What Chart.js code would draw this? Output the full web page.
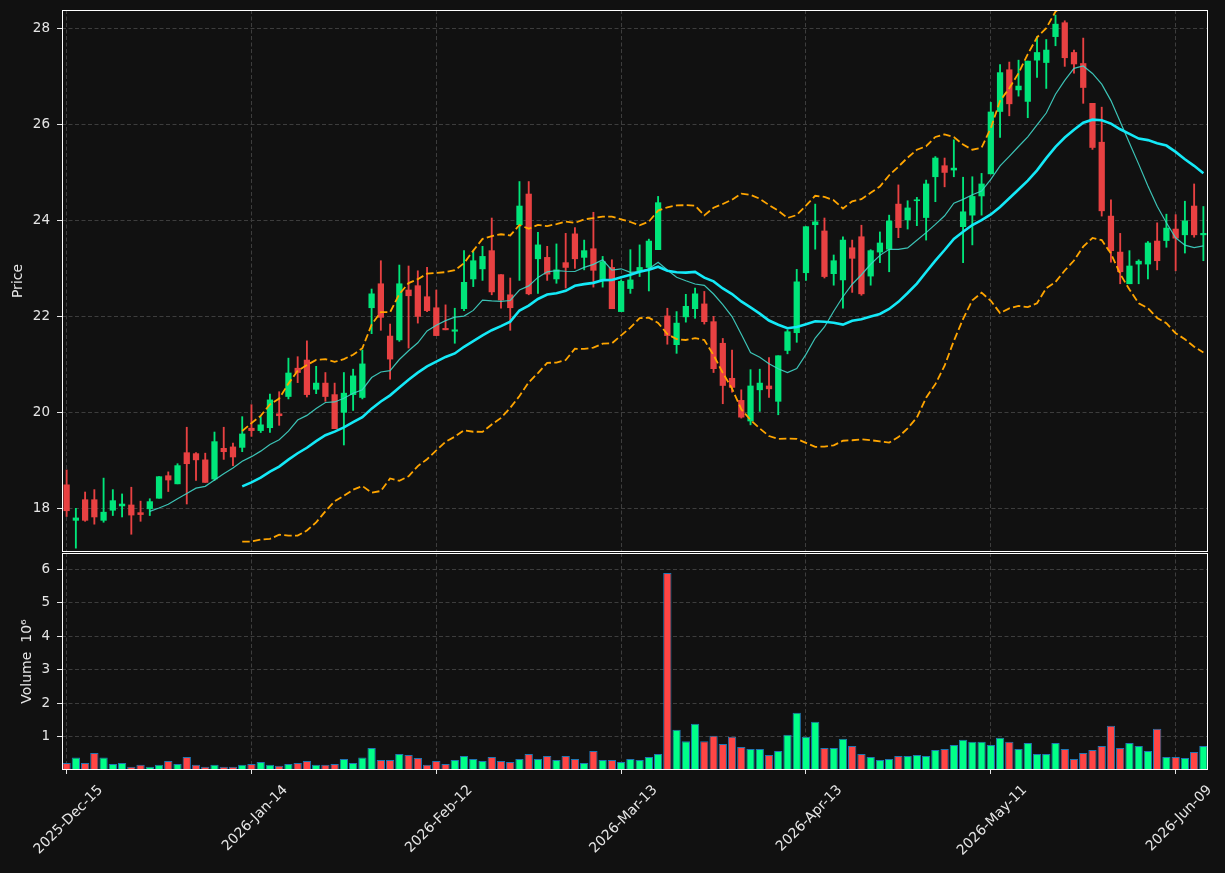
<!DOCTYPE html>
<html>
<head>
<meta charset="utf-8">
<title>Price and volume</title>
<script src="https://cdn.jsdelivr.net/npm/chart.js@4.4.1/dist/chart.umd.min.js"></script>
<style>
  html, body { margin: 0; padding: 0; background: #111111; }
  #wrap { position: relative; width: 1225px; height: 873px; overflow: hidden; }
  canvas { position: absolute; left: 0; }
  #priceChart { top: 0; }
  #volumeChart { top: 553px; }
</style>
</head>
<body>
<div id="wrap">
  <canvas id="priceChart" width="1225" height="553"></canvas>
  <canvas id="volumeChart" width="1225" height="320"></canvas>
</div>
<script>
// --- Data ---
const opens = [
  18.50, 17.76, 18.19, 18.19, 17.76, 17.97, 18.06, 18.08, 17.92, 18.00,
  18.22, 18.69, 18.52, 19.17, 19.15, 19.02, 18.62, 19.26, 19.29, 19.28,
  19.68, 19.63, 19.69, 19.98, 20.34, 20.93, 21.10, 20.49, 20.62, 20.38,
  20.01, 20.38, 20.32, 22.19, 22.69, 21.60, 21.52, 22.56, 22.65, 22.42,
  22.19, 21.76, 21.70, 22.17, 22.79, 23.00, 23.38, 22.88, 22.46, 23.92,
  24.56, 23.21, 23.24, 22.79, 23.13, 23.73, 23.24, 23.42, 22.77, 23.03,
  22.11, 22.59, 22.96, 23.03, 23.40, 22.02, 21.42, 22.00, 22.17, 22.27,
  21.90, 21.45, 20.72, 20.26, 19.83, 20.48, 20.56, 20.24, 21.30, 21.67,
  22.92, 23.92, 23.79, 22.90, 22.77, 23.44, 23.67, 22.85, 23.35, 23.41,
  24.35, 24.02, 24.42, 24.07, 24.92, 25.15, 25.06, 23.88, 24.12, 24.52,
  24.98, 26.28, 27.15, 26.73, 26.49, 27.35, 27.30, 27.84, 28.13, 27.51,
  27.28, 26.45, 25.64, 24.10, 23.35, 22.69, 23.10, 23.10, 23.58, 23.59,
  23.83, 23.71, 24.31, 23.71
];
const highs = [
  18.81, 18.01, 18.35, 18.40, 18.64, 18.40, 18.31, 18.45, 18.16, 18.21,
  18.67, 18.77, 18.94, 19.70, 19.17, 19.16, 19.60, 19.70, 19.37, 19.92,
  20.17, 19.92, 20.39, 20.44, 21.14, 21.17, 21.50, 20.97, 20.84, 20.62,
  20.84, 20.91, 21.31, 22.58, 23.17, 21.85, 23.08, 23.06, 22.96, 23.03,
  22.56, 22.25, 22.18, 23.38, 23.36, 23.47, 24.06, 22.88, 22.81, 24.82,
  24.82, 23.76, 23.47, 23.52, 23.74, 23.86, 23.60, 24.18, 23.26, 23.19,
  22.77, 23.40, 23.50, 23.62, 24.51, 22.18, 22.11, 22.47, 22.60, 22.53,
  22.01, 21.55, 21.31, 20.48, 20.90, 20.91, 21.15, 21.19, 21.73, 22.99,
  23.88, 24.35, 24.06, 23.29, 23.67, 23.60, 23.91, 23.40, 23.77, 24.12,
  24.75, 24.42, 24.49, 24.85, 25.34, 25.31, 25.69, 24.91, 24.92, 24.99,
  26.47, 27.26, 27.31, 27.35, 27.33, 27.84, 27.78, 28.29, 28.17, 27.56,
  27.81, 26.45, 26.37, 24.44, 23.74, 23.38, 23.19, 23.57, 23.96, 24.14,
  24.13, 24.41, 24.77, 24.30
];
const lows = [
  17.84, 17.18, 17.74, 17.68, 17.72, 17.86, 17.83, 17.47, 17.74, 17.86,
  18.22, 18.36, 18.52, 18.10, 18.59, 18.55, 18.59, 19.03, 18.90, 19.19,
  19.51, 19.59, 19.59, 19.74, 20.29, 20.63, 20.33, 20.40, 20.24, 19.67,
  19.33, 20.05, 20.29, 21.65, 21.72, 20.70, 21.49, 21.35, 21.87, 22.11,
  21.61, 21.73, 21.45, 22.13, 22.63, 22.76, 22.46, 22.18, 21.72, 22.76,
  22.46, 22.49, 22.76, 22.70, 22.60, 23.01, 22.98, 22.62, 22.62, 22.17,
  22.11, 22.49, 22.84, 22.54, 23.40, 21.43, 21.24, 21.89, 21.97, 21.85,
  20.84, 20.19, 20.43, 19.89, 19.75, 20.03, 20.32, 19.96, 21.23, 21.47,
  22.76, 23.41, 22.81, 22.66, 22.18, 22.51, 22.45, 22.66, 23.13, 22.94,
  23.65, 23.83, 23.90, 23.60, 24.40, 24.71, 24.92, 23.13, 23.50, 24.12,
  24.98, 25.74, 26.19, 26.60, 26.15, 26.99, 26.76, 27.65, 27.22, 27.08,
  26.45, 25.49, 24.10, 23.14, 22.69, 22.69, 22.69, 22.79, 22.98, 23.45,
  22.96, 23.33, 23.66, 23.17
];
const closes = [
  17.96, 17.81, 17.76, 17.83, 17.93, 18.17, 18.10, 17.87, 17.88, 18.15,
  18.67, 18.60, 18.90, 18.94, 19.02, 18.55, 19.40, 19.19, 19.08, 19.56,
  19.63, 19.75, 20.27, 19.94, 20.83, 20.84, 20.38, 20.62, 20.34, 19.67,
  20.41, 20.77, 21.02, 22.48, 21.99, 21.12, 22.69, 22.44, 22.01, 22.13,
  21.61, 21.73, 21.73, 22.72, 23.17, 23.26, 22.52, 22.35, 22.19, 24.31,
  22.48, 23.50, 22.89, 22.98, 23.03, 23.21, 23.38, 22.97, 23.15, 22.17,
  22.74, 22.77, 23.03, 23.58, 24.38, 21.61, 21.87, 22.22, 22.48, 21.90,
  20.92, 20.57, 20.53, 19.91, 20.56, 20.62, 20.50, 21.19, 21.69, 22.73,
  23.88, 23.98, 22.84, 23.17, 23.60, 23.22, 22.48, 23.38, 23.54, 24.00,
  23.86, 24.27, 24.44, 24.77, 25.31, 25.01, 25.10, 24.19, 24.51, 24.77,
  26.27, 27.09, 26.44, 26.81, 27.33, 27.51, 27.56, 28.10, 27.40, 27.27,
  26.78, 25.53, 24.21, 23.38, 22.94, 23.06, 23.16, 23.54, 23.17, 23.85,
  23.64, 24.00, 23.71, 23.74
];
// volume in millions of shares
const volumes = [
  0.21, 0.37, 0.21, 0.51, 0.37, 0.18, 0.21, 0.10, 0.16, 0.10,
  0.16, 0.27, 0.18, 0.39, 0.16, 0.10, 0.16, 0.10, 0.10, 0.16,
  0.18, 0.24, 0.16, 0.13, 0.18, 0.21, 0.27, 0.16, 0.16, 0.18,
  0.33, 0.21, 0.37, 0.66, 0.30, 0.30, 0.48, 0.45, 0.36, 0.16,
  0.27, 0.18, 0.30, 0.42, 0.33, 0.27, 0.39, 0.27, 0.24, 0.33,
  0.48, 0.33, 0.42, 0.30, 0.42, 0.33, 0.21, 0.57, 0.30, 0.30,
  0.24, 0.33, 0.30, 0.39, 0.48, 5.88, 1.20, 0.86, 1.38, 0.86,
  1.02, 0.78, 0.99, 0.69, 0.63, 0.63, 0.45, 0.57, 1.05, 1.71,
  0.99, 1.44, 0.66, 0.66, 0.93, 0.72, 0.48, 0.39, 0.30, 0.33,
  0.42, 0.42, 0.45, 0.42, 0.60, 0.63, 0.75, 0.90, 0.84, 0.84,
  0.75, 0.96, 0.84, 0.63, 0.81, 0.48, 0.48, 0.81, 0.63, 0.33,
  0.51, 0.60, 0.72, 1.32, 0.66, 0.81, 0.72, 0.57, 1.23, 0.39,
  0.39, 0.36, 0.54, 0.72
];
const tickPositions = [0, 20, 40, 60, 80, 100, 120];
const tickLabels = ['2025-Dec-15', '2026-Jan-14', '2026-Feb-12', '2026-Mar-13', '2026-Apr-13', '2026-May-11', '2026-Jun-09'];
const priceTicks = [18, 20, 22, 24, 26, 28];
const volumeTicks = [1, 2, 3, 4, 5, 6];

// --- Look ---
const colors = {
    upCandle: '#00e57a',
    downCandle: '#e84142',
    upVolume: '#00ff88',
    downVolume: '#ff4545',
    volumeEdge: '#1f77b4',
    ma20: '#14e9f7',
    ma10: 'rgba(64, 214, 200, 0.9)',
    band: '#ffa500',
    grid: '#3d3d3d',
    text: '#e6e6e6',
    frame: '#ffffff'
};
Chart.defaults.font.family = "'DejaVu Sans', sans-serif";
Chart.defaults.color = colors.text;

// --- Indicators built from the closes ---
function movingAverage(values, period) {
    return values.map((v, i) => {
        if (i < period - 1) return null;
        let sum = 0;
        for (let k = i - period + 1; k <= i; k++) sum += values[k];
        return sum / period;
    });
}

function bollinger(values, period, width) {
    const mid = movingAverage(values, period);
    const upper = [], lower = [];
    values.forEach((v, i) => {
        if (mid[i] === null) { upper.push(null); lower.push(null); return; }
        let sq = 0;
        for (let k = i - period + 1; k <= i; k++) sq += (values[k] - mid[i]) ** 2;
        const sd = Math.sqrt(sq / period);
        upper.push(mid[i] + width * sd);
        lower.push(mid[i] - width * sd);
    });
    return { upper, lower };
}

const categories = closes.map((_, i) => i);
const isUp = closes.map((c, i) => c >= opens[i]);
const ma10 = movingAverage(closes, 10);
const ma20 = movingAverage(closes, 20);
const bands = bollinger(closes, 20, 2);

// --- Shared axis helpers ---
function useTicks(list) {
    return scale => { scale.ticks = list.map(v => ({ value: v })); };
}

// white frame around the plot area plus the rotated axis title
const framePlugin = {
    id: 'frame',
    afterDraw(chart, args, opts) {
        const { ctx, chartArea: a } = chart;
        ctx.save();
        ctx.strokeStyle = colors.frame;
        ctx.lineWidth = 1;
        ctx.strokeRect(a.left + 0.5, a.top + 0.5, a.right - a.left - 1, a.bottom - a.top - 1);
        if (opts.title) {
            ctx.translate(opts.x, opts.y);
            ctx.rotate(-Math.PI / 2);
            ctx.fillStyle = colors.text;
            ctx.font = "14px 'DejaVu Sans'";
            ctx.textAlign = 'center';
            ctx.textBaseline = 'middle';
            ctx.fillText(opts.title, 0, 0);
        }
        ctx.restore();
    }
};

function yAxis(min, max, ticks) {
    return {
        min: min,
        max: max,
        afterBuildTicks: useTicks(ticks),
        afterFit: s => { s.width = 62; s.paddingTop = 0; s.paddingBottom = 0; },
        border: { display: false, dash: [4, 2.5] },
        grid: { color: colors.grid, drawTicks: true, tickLength: 5, tickColor: colors.text, tickBorderDash: [], tickWidth: 1 },
        ticks: { padding: 7, font: { size: 13.5 }, color: colors.text }
    };
}

// --- Price panel ---
new Chart(document.getElementById('priceChart'), {
    type: 'bar',
    data: {
        labels: categories,
        datasets: [
            { type: 'line', label: 'MA20', data: ma20, borderColor: colors.ma20, borderWidth: 2.6, pointRadius: 0, order: 0 },
            { type: 'line', label: 'MA10', data: ma10, borderColor: colors.ma10, borderWidth: 1.2, pointRadius: 0, order: 0 },
            { type: 'line', label: 'BB upper', data: bands.upper, borderColor: colors.band, borderWidth: 1.8, borderDash: [7.5, 3.3], pointRadius: 0, order: 0 },
            { type: 'line', label: 'BB lower', data: bands.lower, borderColor: colors.band, borderWidth: 1.8, borderDash: [7.5, 3.3], pointRadius: 0, order: 0 },
            {
                label: 'Body', data: opens.map((o, i) => [o, closes[i]]),
                backgroundColor: isUp.map(u => u ? colors.upCandle : colors.downCandle),
                barThickness: 5.6, grouped: false, order: 1
            },
            {
                label: 'Wick', data: lows.map((l, i) => [l, highs[i]]),
                backgroundColor: isUp.map(u => u ? colors.upCandle : colors.downCandle),
                barThickness: 1.2, grouped: false, order: 2
            }
        ]
    },
    options: {
        responsive: false,
        devicePixelRatio: 1,
        animation: false,
        events: [],
        layout: { autoPadding: false, padding: { top: 10, right: 17, bottom: 1, left: 0 } },
        plugins: {
            legend: { display: false },
            tooltip: { enabled: false },
            frame: { title: 'Price', x: 18, y: 281 }
        },
        scales: {
            x: {
                offset: true,
                afterBuildTicks: useTicks(tickPositions),
                afterFit: s => { s.height = 0; s.paddingLeft = 0; s.paddingRight = 0; },
                border: { display: false, dash: [4, 2.5] },
                grid: { color: colors.grid, offset: false, drawTicks: false },
                ticks: { display: false }
            },
            y: yAxis(17.1, 28.395, priceTicks)
        }
    },
    plugins: [framePlugin]
});

// --- Volume panel ---
new Chart(document.getElementById('volumeChart'), {
    type: 'bar',
    data: {
        labels: categories,
        datasets: [{
            label: 'Volume', data: volumes,
            backgroundColor: isUp.map(u => u ? colors.upVolume : colors.downVolume),
            borderColor: colors.volumeEdge,
            borderWidth: 1,
            borderSkipped: false,
            categoryPercentage: 1,
            barPercentage: 0.9
        }]
    },
    options: {
        responsive: false,
        devicePixelRatio: 1,
        animation: false,
        events: [],
        layout: { autoPadding: false, padding: { top: 0, right: 17, bottom: 0, left: 0 } },
        plugins: {
            legend: { display: false },
            tooltip: { enabled: false },
            frame: { title: 'Volume  10\u2076', x: 27, y: 108.5 }
        },
        scales: {
            x: {
                offset: true,
                afterBuildTicks: useTicks(tickPositions),
                afterFit: s => { s.height = 103; s.paddingLeft = 0; s.paddingRight = 0; },
                border: { display: false, dash: [4, 2.5] },
                grid: { color: colors.grid, offset: false, drawTicks: true, tickLength: 4, tickColor: colors.text, tickBorderDash: [], tickWidth: 1 },
                ticks: {
                    autoSkip: false, minRotation: 45, maxRotation: 45,
                    labelOffset: 34, padding: 8,
                    font: { size: 14 }, color: colors.text,
                    callback: (value, index) => tickLabels[index]
                }
            },
            y: yAxis(0, 6.48, volumeTicks)
        }
    },
    plugins: [framePlugin]
});
</script>
</body>
</html>
